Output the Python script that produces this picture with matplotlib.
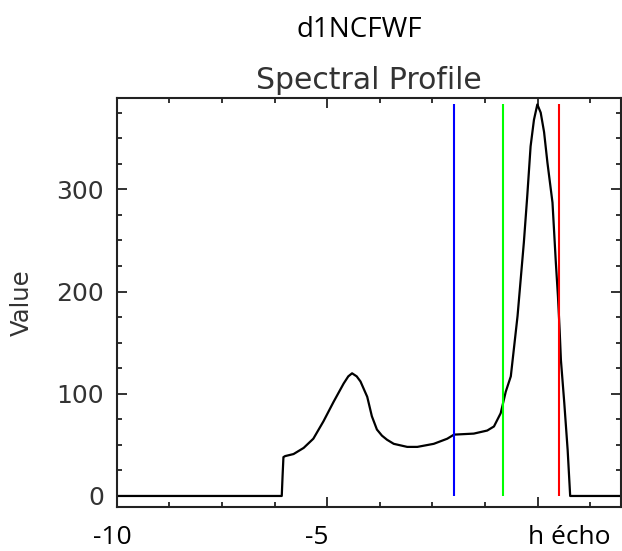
import matplotlib
matplotlib.use("Agg")
import matplotlib.pyplot as plt
from matplotlib.ticker import MultipleLocator

# ---- data ----
profile_x = [-10, -6.08, -6.06, -6.04, -6.0, -5.8, -5.56, -5.33, -5.09, -4.85,
             -4.61, -4.5, -4.41, -4.3, -4.21, -4.05, -3.94, -3.82, -3.7, -3.58,
             -3.42, -3.1, -2.86, -2.47, -2.15, -1.99, -1.52, -1.2, -1.04, -0.88,
             -0.76, -0.64, -0.48, -0.33, -0.25, -0.17, -0.09, -0.01, 0.07, 0.15,
             0.23, 0.35, 0.43, 0.48, 0.52, 0.55, 0.63, 0.71, 0.77, 1.97]
profile_y = [0, 0, 20, 38, 39, 41, 47, 56, 73, 92,
             110, 117, 120, 117, 112, 97, 78, 65, 59, 55,
             51, 48, 48, 51, 56, 60, 61, 64, 68, 81,
             102, 117, 176, 248, 293, 342, 368, 383, 375, 356,
             326, 287, 228, 195, 162, 133, 91, 45, 0, 0]

marker_x = [-2.0, -0.82, 0.51]
marker_colors = ["#0000ff", "#00ff00", "#ff0000"]

x_labels = ["-10", "-5", "h écho"]
y_ticks = [0, 100, 200, 300]

# ---- figure ----
W, H = 622, 551
fig = plt.figure(figsize=(W / 100, H / 100), dpi=100)
ax_left, ax_right, ax_top, ax_bottom = 116.7, 620.7, 98.3, 506.7
ax = fig.add_axes([ax_left / W, 1 - ax_bottom / H,
                   (ax_right - ax_left) / W, (ax_bottom - ax_top) / H])

ax.plot(profile_x, profile_y, color="black", lw=1.6)
ax.vlines(marker_x, 0, max(profile_y), colors=marker_colors, lw=1.5)

ax.set_xlim(-10, 1.97)
ax.set_ylim(-10.5, 389)

ax.xaxis.set_major_locator(MultipleLocator(5))
ax.xaxis.set_minor_locator(MultipleLocator(1.25))
ax.set_yticks(y_ticks)
ax.yaxis.set_minor_locator(MultipleLocator(25))
ax.set_xticklabels([])

for s in ax.spines.values():
    s.set_linewidth(1.5)
    s.set_color("#222222")
ax.tick_params(which="both", direction="in", top=True, right=True, width=1.3,
               labelsize=18, pad=9, colors="#222222")
ax.tick_params(which="major", length=7)
ax.tick_params(which="minor", length=3.5)
for lab in ax.get_yticklabels():
    lab.set_fontfamily("DejaVu Sans")
    lab.set_color("#333333")

ax.set_title("Spectral Profile", fontsize=21.5, family="DejaVu Sans",
             color="#333333", pad=7)
ax.set_ylabel("Value", fontsize=17.5, family="DejaVu Sans", color="#333333")
ax.yaxis.set_label_coords(-(ax_left - 34) / (ax_right - ax_left), 0.5)

# overlaid annotation texts
fig.text(359 / W, 1 - 37 / H, "d1NCFWF", ha="center", va="baseline",
         fontsize=20, family="Open Sans", color="black")
label_centers = [112.5, 317, 569.5]
for cx, t in zip(label_centers, x_labels):
    fig.text(cx / W, 1 - 550 / H, t, ha="center", va="bottom",
             fontsize=19, family="Open Sans", color="black")

fig.savefig("out.png", dpi=100)
